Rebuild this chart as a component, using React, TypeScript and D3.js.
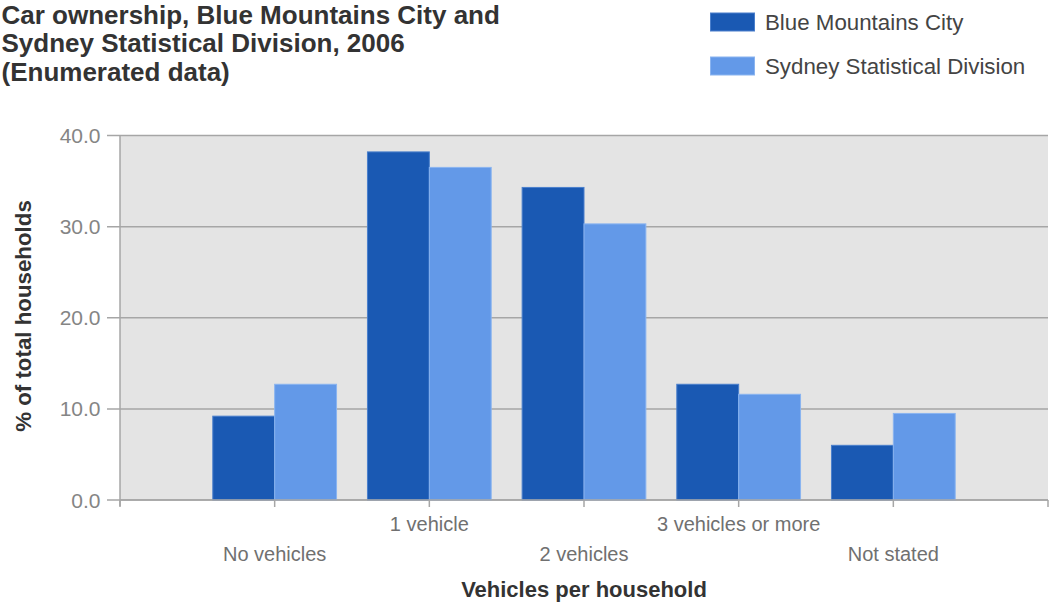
import React from "react";
import * as d3 from "d3";

const categories = ["No vehicles", "1 vehicle", "2 vehicles", "3 vehicles or more", "Not stated"];
const seriesNames = ["Blue Mountains City", "Sydney Statistical Division"];
const blueMountains = [9.2, 38.2, 34.3, 12.7, 6.0];
const sydney = [12.7, 36.5, 30.3, 11.6, 9.5];
const yTicks = [0, 10, 20, 30, 40];
const titleLines = ["Car ownership, Blue Mountains City and", "Sydney Statistical Division, 2006", "(Enumerated data)"];

const W = 1051, H = 602;
const left = 120, right = 1048, top = 135.5, bottom = 500;
const colors = ["#1a59b3", "#6399e8"];
const strokes = ["#4a7fcc", "#8ab4f0"];

export default function App() {
  const x = d3.scaleLinear().domain([0, categories.length + 1]).range([left, right]);
  const y = d3.scaleLinear().domain([0, 40]).range([bottom, top]);
  const series = [blueMountains, sydney];
  const barW = 0.4;
  const font = "'Liberation Sans', Arial, sans-serif";
  const xTickPositions = d3.range(0, categories.length + 2);
  const titleY = [23.8, 52, 81];

  return (
    <svg width={W} height={H} style={{ position: "absolute", left: 0, top: 0 }} fontFamily={font}>
      <rect x={0} y={0} width={W} height={H} fill="#ffffff" />
      {/* title */}
      {titleLines.map((t, i) => (
        <text key={i} x={1.5} y={titleY[i]} fontSize={26} fontWeight="bold" fill="#333">{t}</text>
      ))}
      {/* legend */}
      {seriesNames.map((n, i) => (
        <g key={n}>
          <rect x={710.5} y={13 + i * 44} width={44} height={18} fill={colors[i]} stroke={strokes[i]} strokeWidth={1} />
          <text x={765} y={30 + i * 44} fontSize={22.3} fill="#444">{n}</text>
        </g>
      ))}
      {/* plot background */}
      <rect x={left} y={top} width={right - left} height={bottom - top} fill="#e4e4e4" />
      {/* gridlines & y ticks */}
      {yTicks.map((v) => (
        <g key={v}>
          <line x1={107} x2={right} y1={y(v)} y2={y(v)} stroke="#a6a6a6" strokeWidth={1.5} />
          <text x={100.5} y={y(v) + 7.5} textAnchor="end" fontSize={21} fill="#858585">{v.toFixed(1)}</text>
        </g>
      ))}
      {/* bars */}
      {categories.map((c, ci) => (
        <g key={c}>
          {series.map((s, si) => {
            const x0 = x(ci + 1 - barW + si * barW);
            const x1 = x(ci + 1 + si * barW);
            return (
              <rect key={si} x={x0} y={y(s[ci])} width={x1 - x0} height={y(0) - y(s[ci])}
                fill={colors[si]} stroke={strokes[si]} strokeWidth={1} />
            );
          })}
        </g>
      ))}
      {/* axes */}
      <line x1={left} x2={left} y1={top} y2={bottom + 6} stroke="#a6a6a6" strokeWidth={1.5} />
      <line x1={left} x2={right} y1={bottom} y2={bottom} stroke="#a6a6a6" strokeWidth={1.5} />
      {xTickPositions.map((k) => (
        <line key={k} x1={x(k)} x2={x(k)} y1={bottom} y2={bottom + 7} stroke="#a6a6a6" strokeWidth={1.5} />
      ))}
      {categories.map((c, ci) => (
        <text key={c} x={x(ci + 1)} y={ci % 2 === 0 ? 561 : 531} textAnchor="middle" fontSize={20} fill="#707070">{c}</text>
      ))}
      {/* axis titles */}
      <text x={(left + right) / 2} y={597} textAnchor="middle" fontSize={22} fontWeight="bold" fill="#333">Vehicles per household</text>
      <text transform={`translate(31, ${316}) rotate(-90)`} textAnchor="middle" fontSize={22.3} fontWeight="bold" fill="#333">% of total households</text>
    </svg>
  );
}
